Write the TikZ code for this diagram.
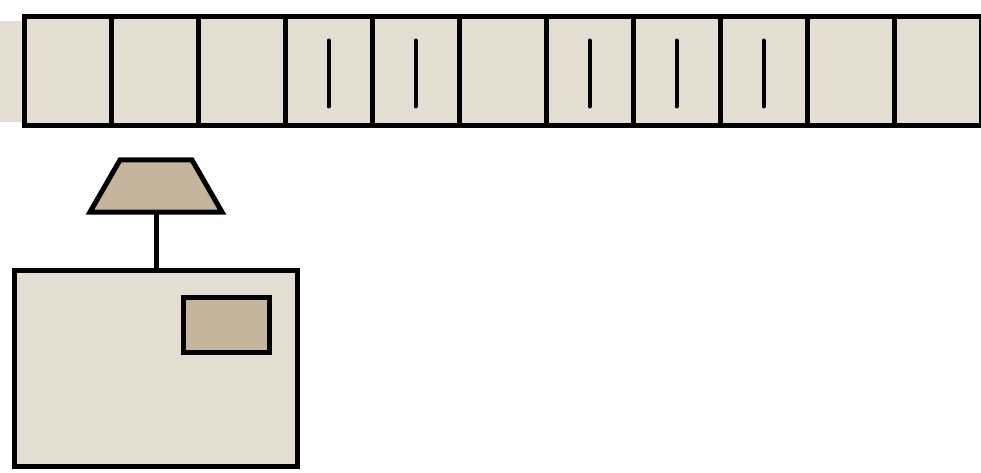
\documentclass[tikz,border=0pt]{standalone}
\usepackage{tikz}
\usetikzlibrary{positioning, calc}
\usepackage{xcolor}
\definecolor{tapecol}{HTML}{E4DDD1}
\definecolor{headcol}{HTML}{C5B59C}

\begin{document}
\begin{tikzpicture}[x=1pt, y=-1pt, line width=5pt,
  cell/.style={draw, fill=tapecol, minimum width=87pt, minimum height=109pt, inner sep=0pt},
  stroke/.style={line width=4pt, line cap=round}]
\useasboundingbox (0,0) rectangle (981,473);
% tape continues to the left
\fill[tapecol] (0,21) rectangle (22,122);
\foreach \i in {0,...,10}
  \node[cell] (c\i) at ({67.5+87*\i},71.5) {};
\foreach \i in {3,4,6,7,8}
  \draw[stroke] ($(c\i.center)+(0,-31)$) -- ($(c\i.center)+(0,35)$);
% read/write head
\draw[fill=headcol, line join=miter] (120,160) -- (192,160) -- (222,212) -- (90,212) -- cycle;
\coordinate (head) at (156,212);
% finite control
\node[draw, fill=tapecol, minimum width=283pt, minimum height=196pt, inner sep=0pt] (ctrl) at (156,368) {};
\node[draw, fill=headcol, minimum width=86pt, minimum height=55pt, inner sep=0pt] (state) at (226,324.5) {};
\draw (head) -- (ctrl.north);
\end{tikzpicture}
\end{document}
